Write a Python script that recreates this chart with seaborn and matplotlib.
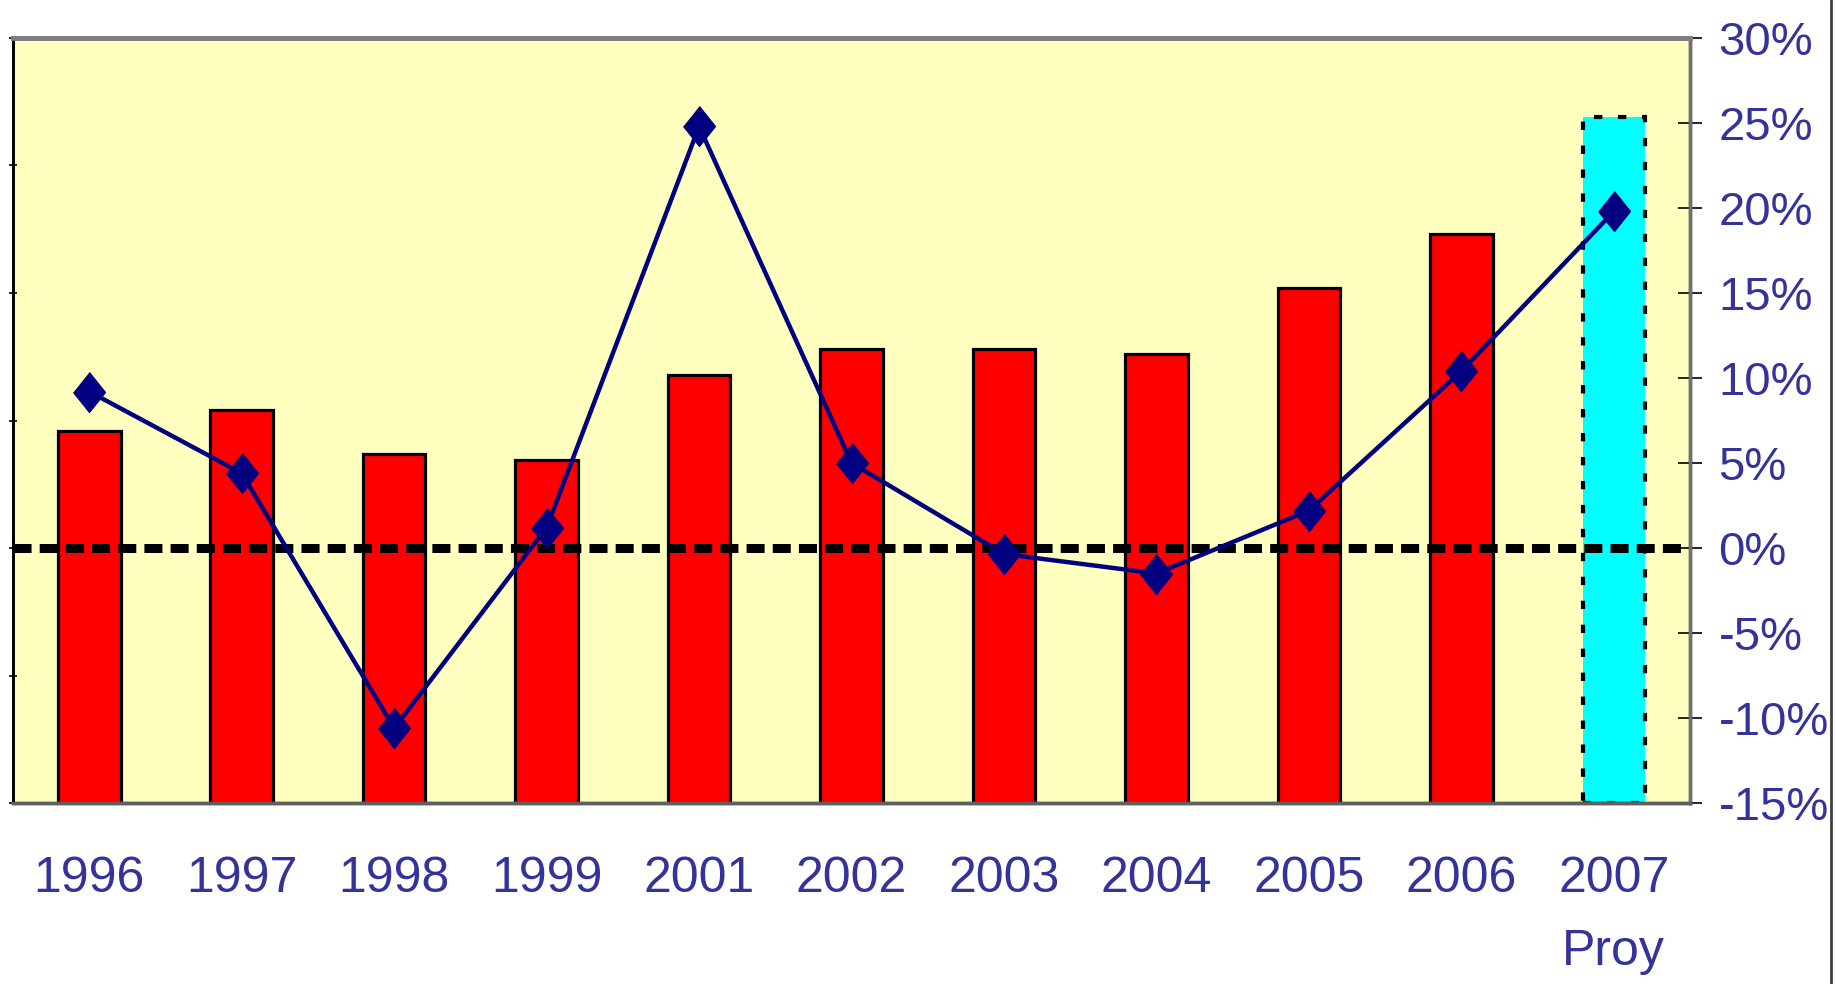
import numpy as np
import pandas as pd
import seaborn as sns
import matplotlib.pyplot as plt
from matplotlib.ticker import PercentFormatter
from matplotlib.lines import Line2D

years = ['1996', '1997', '1998', '1999', '2001', '2002', '2003', '2004', '2005', '2006', '2007']
year_labels = ['1996', '1997', '1998', '1999', '2001', '2002', '2003', '2004', '2005', '2006', '2007\nProy']
# bar values (left axis, unlabeled)
bar_values = [14.6, 15.4, 13.7, 13.45, 16.8, 17.8, 17.8, 17.6, 20.2, 22.3, 26.9]
# growth rate in % (right axis)
growth = [9.2, 4.4, -10.6, 1.2, 24.8, 5.0, -0.35, -1.5, 2.2, 10.4, 19.8]

bar_colors = ['#FF0000'] * 10 + ['#00FFFF']
text_color = '#333399'
navy = '#000080'

sns.set_style('white')
plt.rcParams['font.family'] = ['Liberation Sans', 'DejaVu Sans']
plt.rcParams['axes.unicode_minus'] = False

fig = plt.figure(figsize=(18.36, 9.84), dpi=100)
ax = fig.add_axes([0.0071, 0.1839, 0.9134, 0.7775])
ax.set_facecolor('#FFFFC0')

sns.barplot(x=years, y=bar_values, hue=years, palette=bar_colors, legend=False,
            saturation=1, width=0.41, edgecolor='black', linewidth=2.3, ax=ax)
proj = ax.patches[-1]
proj.set_linestyle((0, (2, 3.75)))
proj.set_linewidth(3)

ax.set_ylim(0, 30)
ax.set_yticks(range(0, 31, 5))
ax.tick_params(axis='y', which='major', direction='inout', length=6, width=1.2,
               labelleft=False, color='black')
ax.set_xticks(range(len(years)), year_labels)
ax.set_xticks(np.arange(len(years) + 1) - 0.5, minor=True)
ax.tick_params(axis='x', which='major', length=0, pad=38, labelsize=36,
               labelcolor=text_color)
ax.tick_params(axis='x', which='minor', direction='inout', length=21.6, width=1.2,
               color='#333333')
for lbl in ax.get_xticklabels():
    lbl.set_linespacing(1.75)
ax.set_xlabel('')
ax.set_ylabel('')

ax2 = ax.twinx()
ax2.axhline(0, color='black', lw=6.5, dashes=(2, 0.9), zorder=2)
diamond = [(0, 1), (0.8, 0), (0, -1), (-0.8, 0)]
sns.lineplot(x=np.arange(len(years)), y=growth, ax=ax2, color=navy, lw=3.2,
             marker=diamond, markersize=29, markeredgecolor=navy,
             markerfacecolor=navy, zorder=3)
ax2.set_ylim(-15, 30)
ax2.set_yticks(range(-15, 31, 5))
ax2.yaxis.set_major_formatter(PercentFormatter(decimals=0))
ax2.tick_params(axis='y', direction='inout', length=17, width=1.2, pad=12,
                labelsize=34, labelcolor=text_color, color='black')
ax2.set_xlim(-0.5, len(years) - 0.5)
ax2.set_ylabel('')

for a in (ax, ax2):
    a.spines['top'].set_color('#808080')
    a.spines['top'].set_linewidth(3.5)
    a.spines['right'].set_color('#707070')
    a.spines['right'].set_linewidth(2.5)
    a.spines['bottom'].set_color('#606060')
    a.spines['bottom'].set_linewidth(2.5)
    a.spines['left'].set_color('black')
    a.spines['left'].set_linewidth(2)

fig.add_artist(Line2D([0.9975, 0.9975], [0, 1], color='#404040', lw=2))

plt.savefig('out.png', dpi=100)
